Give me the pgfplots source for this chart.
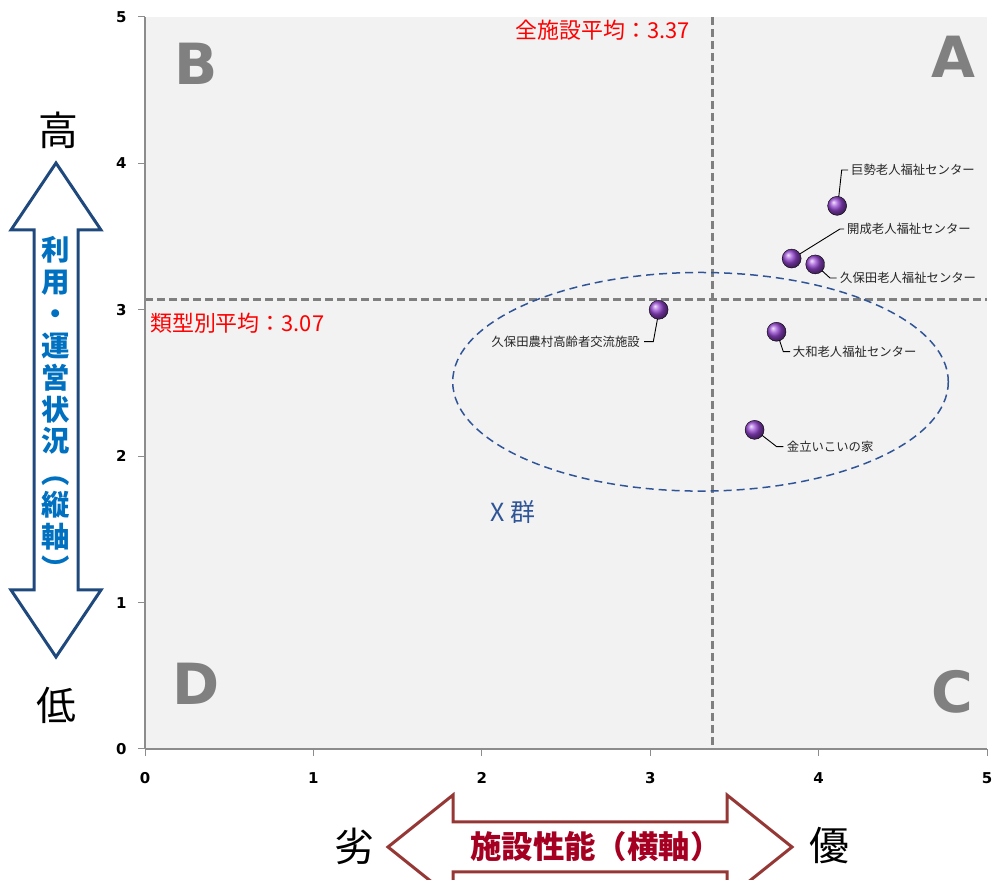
\documentclass[border=0pt]{standalone}
\usepackage{pgfplots}
\pgfplotsset{compat=1.18}
\usepackage{fontspec}
\setmainfont{DejaVu Sans}
\newfontfamily\jp{Noto Sans CJK JP}
\definecolor{bgc}{HTML}{F2F2F2}
\definecolor{refgray}{HTML}{7F7F7F}
\definecolor{elblue}{HTML}{2F5597}
\definecolor{arrblue}{HTML}{1F497D}
\definecolor{txtblue}{HTML}{0070C0}
\definecolor{arrred}{HTML}{953735}
\definecolor{txtred}{RGB}{165,0,33}
\definecolor{ballc}{RGB}{150,70,210}
\definecolor{lettergray}{HTML}{808080}
\definecolor{axgray}{HTML}{8C8C8C}
\begin{document}
\begin{tikzpicture}
\useasboundingbox (0,0) rectangle (994bp,880bp);
\begin{scope}[shift={(0bp,880bp)},x=1bp,y=-1bp]
\fill[bgc] (145,17) rectangle (987,749);
% quadrant letters
\node[font=\bfseries\fontsize{57}{57}\selectfont, text=lettergray, inner sep=0] at (196,64) {B};
\node[font=\bfseries\fontsize{57}{57}\selectfont, text=lettergray, inner sep=0] at (953,57) {A};
\node[font=\bfseries\fontsize{57}{57}\selectfont, text=lettergray, inner sep=0] at (196,684) {D};
\node[font=\bfseries\fontsize{57}{57}\selectfont, text=lettergray, inner sep=0] at (952,692) {C};
% reference lines
\draw[refgray, line width=3bp, dash pattern=on 8bp off 4bp] ({145+3.37*168.4},17) -- ({145+3.37*168.4},749);
\draw[refgray, line width=3bp, dash pattern=on 8bp off 4bp] (145,{749-3.07*146.4}) -- (987,{749-3.07*146.4});
\node[anchor=east, inner sep=0, text=red, font=\jp\fontsize{22}{22}\selectfont] at (690,30) {全施設平均：3.37};
\node[anchor=west, inner sep=0, text=red, font=\jp\fontsize{22}{22}\selectfont] at (150,323) {類型別平均：3.07};
% ellipse
\draw[elblue, line width=1.5bp, dash pattern=on 8bp off 5bp] (700.5,381.8) ellipse [x radius=247.8, y radius=109.3];
\node[inner sep=0, text=elblue, font=\jp\fontsize{25}{25}\selectfont] at (513,512) {X 群};
% leaders
\draw[black, line width=0.9bp] (837.7,206.7) -- (841.7,170) -- (848,170);
\draw[black, line width=0.9bp] (791.7,259) -- (840,229) -- (844,229);
\draw[black, line width=0.9bp] (815.7,265) -- (830,278) -- (836.7,278);
\draw[black, line width=0.9bp] (659,310.7) -- (653.3,341.7) -- (644,341.7);
\draw[black, line width=0.9bp] (776.7,331.7) -- (783.3,351.7) -- (790,351.7);
\draw[black, line width=0.9bp] (754.3,429.3) -- (776.7,446.7) -- (783.3,446.7);
\begin{scope}[every node/.style={inner sep=0, text=black!85, font=\jp\fontsize{12.4}{12.4}\selectfont}]
\node[anchor=west] at (851,170) {巨勢老人福祉センター};
\node[anchor=west] at (847,229) {開成老人福祉センター};
\node[anchor=west] at (840,278) {久保田老人福祉センター};
\node[anchor=east] at (640,341.7) {久保田農村高齢者交流施設};
\node[anchor=west] at (792.7,351.7) {大和老人福祉センター};
\node[anchor=west] at (786.7,446.7) {金立いこいの家};
\end{scope}
% vertical arrow
\draw[arrblue, line width=3bp, fill=white, line join=miter] (56,163) -- (101,230) -- (78,230) -- (78,590) -- (101,590) -- (56,657) -- (11,590) -- (34,590) -- (34,230) -- (11,230) -- cycle;
\node[align=center, inner sep=0, text=txtblue, font=\jp\bfseries\fontsize{28.5}{32}\selectfont] at (56,408) {利\\用\\・\\運\\営\\状\\況\\︵\\縦\\軸\\︶};
\node[inner sep=0, font=\jp\fontsize{40}{40}\selectfont] at (58,130) {高};
\node[inner sep=0, font=\jp\fontsize{40}{40}\selectfont] at (56,705) {低};
% horizontal arrow
\begin{scope}
\clip (0,0) rectangle (994,880);
\draw[arrred, line width=3bp, fill=white, line join=miter] (388,847) -- (453,795) -- (453,822) -- (727,822) -- (727,795) -- (792,847) -- (727,899) -- (727,872) -- (453,872) -- (453,899) -- cycle;
\end{scope}
\node[inner sep=0, text=txtred, font=\jp\bfseries\fontsize{31.5}{31.5}\selectfont] at (596,847) {施設性能（横軸）};
\node[inner sep=0, font=\jp\fontsize{40}{40}\selectfont] at (354,846) {劣};
\node[inner sep=0, font=\jp\fontsize{40}{40}\selectfont] at (829,846) {優};
\end{scope}
\begin{axis}[
  at={(145bp,131bp)}, anchor=south west,
  scale only axis, width=842bp, height=732bp,
  xmin=0, xmax=5, ymin=0, ymax=5,
  axis lines=left,
  axis line style={-, draw=axgray, line width=1.3bp},
  xtick={0,1,2,3,4,5}, ytick={0,1,2,3,4,5},
  tick align=outside, major tick length=7bp,
  tick style={draw=axgray, line width=1bp},
  /pgf/number format/assume math mode=true,
  ticklabel style={font=\bfseries\fontsize{15}{15}\selectfont},
  yticklabel style={xshift=-8bp},
  xticklabel style={yshift=-13bp},
  clip=false,
]
\addplot[only marks, mark=ball, mark size=9.5bp, mark options={ball color=ballc}] coordinates {
  (4.11,3.71) (3.84,3.35) (3.98,3.31) (3.05,3.00) (3.75,2.85) (3.62,2.18)
};
\end{axis}
\end{tikzpicture}
\end{document}
